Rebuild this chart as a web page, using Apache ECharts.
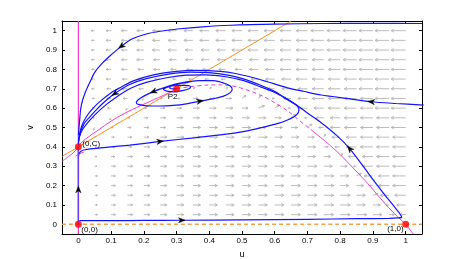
<!DOCTYPE html>
<html><head><meta charset="utf-8">
<script src="https://cdn.jsdelivr.net/npm/echarts@6.0.0/dist/echarts.min.js"></script>
<style>html,body{margin:0;padding:0;background:#fff}#c{width:451px;height:259px}</style>
</head><body><div id="c"></div>
<script>
// ---------- data ----------
const xTicks = [0,0.1,0.2,0.3,0.4,0.5,0.6,0.7,0.8,0.9,1];
const yTicks = [0,0.1,0.2,0.3,0.4,0.5,0.6,0.7,0.8,0.9,1];

// vector-field grid (quiver)
const uGrid = [0.05,0.1,0.15,0.2,0.25,0.3,0.35,0.4,0.45,0.5,0.55,0.6,0.65,0.7,0.75,0.8,0.85,0.9,0.95,1.0];
const vGrid = [0.05,0.1,0.15,0.2,0.25,0.3,0.35,0.4,0.45,0.5,0.55,0.6,0.65,0.7,0.75,0.8,0.85,0.9,0.95,1.0];
const duRows = [
 [0.19,0.31,0.37,0.43,0.47,0.51,0.54,0.58,0.60,0.61,0.63,0.65,0.66,0.68,0.70,0.71,0.73,0.64,0.35,-0.41],
 [0.19,0.31,0.37,0.43,0.47,0.51,0.54,0.58,0.60,0.61,0.63,0.65,0.66,0.68,0.70,0.71,0.62,0.53,-0.23,-0.64],
 [0.19,0.31,0.37,0.43,0.47,0.51,0.54,0.58,0.60,0.61,0.63,0.65,0.66,0.68,0.70,0.71,0.62,0.34,-0.63,-0.78],
 [0.19,0.31,0.37,0.43,0.47,0.51,0.54,0.58,0.60,0.61,0.63,0.65,0.66,0.68,0.70,0.60,0.51,-0.22,-0.77,-0.92],
 [0.19,0.31,0.37,0.43,0.47,0.51,0.54,0.58,0.60,0.61,0.63,0.65,0.66,0.68,0.70,0.60,0.33,-0.62,-0.77,-0.92],
 [0.16,0.31,0.37,0.43,0.47,0.51,0.54,0.58,0.60,0.61,0.63,0.65,0.66,0.68,0.60,0.50,-0.22,-0.75,-0.90,-0.92],
 [0.16,0.26,0.37,0.43,0.47,0.51,0.54,0.58,0.60,0.61,0.63,0.65,0.66,0.58,0.49,0.18,-0.60,-0.75,-0.90,-0.92],
 [0.13,0.26,0.31,0.43,0.47,0.51,0.54,0.58,0.60,0.61,0.63,0.65,0.56,0.58,0.32,-0.38,-0.73,-0.88,-0.90,-0.92],
 [0.05,0.22,0.31,0.37,0.47,0.51,0.54,0.58,0.60,0.61,0.63,0.55,0.56,0.48,0.12,-0.59,-0.73,-0.88,-0.90,-0.92],
 [-0.10,0.14,0.26,0.37,0.40,0.51,0.54,0.58,0.60,0.61,0.54,0.55,0.46,0.31,-0.37,-0.71,-0.86,-0.88,-0.90,-1.03],
 [-0.15,-0.09,0.17,0.30,0.40,0.43,0.46,0.49,0.51,0.52,0.54,0.46,0.30,-0.20,-0.57,-0.71,-0.86,-0.88,-0.90,-1.03],
 [-0.19,-0.25,-0.11,0.19,0.33,0.36,0.46,0.49,0.51,0.43,0.44,0.29,-0.20,-0.56,-0.70,-0.84,-0.86,-0.88,-1.01,-1.03],
 [-0.19,-0.31,-0.30,-0.13,0.12,0.23,0.38,0.41,0.42,0.27,0.16,-0.19,-0.55,-0.68,-0.82,-0.84,-0.86,-0.88,-1.01,-1.03],
 [-0.22,-0.31,-0.37,-0.35,-0.25,0.03,0.14,0.15,0.15,-0.03,-0.33,-0.53,-0.66,-0.68,-0.82,-0.84,-0.86,-0.99,-1.01,-1.03],
 [-0.22,-0.36,-0.37,-0.43,-0.39,-0.27,-0.29,-0.31,-0.32,-0.32,-0.52,-0.65,-0.66,-0.80,-0.82,-0.84,-0.86,-0.99,-1.01,-1.03],
 [-0.22,-0.36,-0.43,-0.43,-0.47,-0.42,-0.45,-0.48,-0.49,-0.50,-0.63,-0.65,-0.78,-0.80,-0.82,-0.84,-0.96,-0.99,-1.01,-1.03],
 [-0.22,-0.36,-0.43,-0.50,-0.47,-0.51,-0.54,-0.58,-0.60,-0.61,-0.63,-0.76,-0.78,-0.80,-0.82,-0.84,-0.96,-0.99,-1.01,-1.03],
 [-0.22,-0.36,-0.43,-0.50,-0.55,-0.60,-0.54,-0.58,-0.60,-0.72,-0.74,-0.76,-0.78,-0.80,-0.82,-0.94,-0.96,-0.99,-1.01,-1.03],
 [-0.22,-0.36,-0.43,-0.50,-0.55,-0.60,-0.64,-0.68,-0.70,-0.72,-0.74,-0.76,-0.78,-0.80,-0.92,-0.94,-0.96,-0.99,-1.01,-1.03],
 [-0.25,-0.36,-0.43,-0.50,-0.55,-0.60,-0.64,-0.68,-0.70,-0.72,-0.74,-0.76,-0.78,-0.80,-0.92,-0.94,-0.96,-0.99,-1.01,-1.03]
];
// cells whose arrows are visibly tilted: [u, v, dv]
const dvCells = [
 [0.5,0.65,0.35],[0.55,0.65,0.35],[0.55,0.6,0.3],[0.6,0.6,0.35],[0.65,0.55,0.4],[0.7,0.5,0.4],
 [0.75,0.45,0.35],[0.8,0.35,0.35],[0.85,0.25,0.3],[0.9,0.15,0.2],[0.35,0.7,0.15],[0.4,0.7,0.15],
 [0.45,0.7,0.15],[0.1,0.55,-0.25],[0.15,0.6,-0.25],[0.2,0.65,-0.2],[0.05,0.5,-0.3],[0.25,0.7,-0.15]
];

// nullclines
const magVert = [[0,-0.05],[0,1.05]];
const magSolidA = [[-0.05,0.325],[-0.03,0.35],[-0.01,0.378],[0.005,0.415],[0.024,0.443],[0.06,0.486],[0.1,0.533],[0.14,0.572],[0.19,0.613],[0.23,0.643],[0.26,0.666],[0.3,0.7]];
const magSmall = [[-0.008,0.352],[0.004,0.366],[0.016,0.372]];
const magDashed = [[0.3,0.7],[0.342,0.711],[0.393,0.719],[0.434,0.72],[0.465,0.716],[0.495,0.705],[0.53,0.685],[0.567,0.659],[0.6,0.628],[0.64,0.585],[0.68,0.53],[0.71,0.49]];
const magSolidB = [[0.71,0.49],[0.762,0.418],[0.8,0.36],[0.84,0.29],[0.875,0.228],[0.91,0.16],[0.947,0.088],[0.975,0.04],[1.0,0.0],[1.023,-0.05]];
const orangeLine = [[-0.05,0.35],[0.65,1.05]];
const orangeDash = [[-0.05,0],[1.05,0]];

// trajectories
const trajA = [[1.05,1.037],[0.9,1.038],[0.75,1.037],[0.6,1.034],[0.465,1.028],[0.38,1.02],[0.31,1.01],[0.25,0.997],[0.208,0.983],[0.165,0.958],[0.131,0.919],[0.1,0.875],[0.074,0.834],[0.05,0.785],[0.034,0.73],[0.022,0.685],[0.013,0.642],[0.007,0.595],[0.004,0.54],[0.002,0.5],[0.0,0.46]];
const trajB = [[0.003,0.019],[0.1,0.019],[0.2,0.02],[0.316,0.021],[0.5,0.023],[0.7,0.026],[0.85,0.029],[0.95,0.031],[0.975,0.033],[0.988,0.037],[0.98,0.06],[0.967,0.088],[0.935,0.155],[0.906,0.218],[0.87,0.3],[0.829,0.391],[0.79,0.458],[0.742,0.525],[0.7,0.575],[0.67,0.612],[0.63,0.653],[0.598,0.688],[0.55,0.723],[0.516,0.745],[0.465,0.768],[0.4,0.783],[0.342,0.786],[0.28,0.777],[0.208,0.752],[0.157,0.722],[0.111,0.675],[0.08,0.633],[0.054,0.59],[0.035,0.555],[0.018,0.521],[0.007,0.48],[0.002,0.44],[0.0,0.41]];
const trajD = [[1.055,0.616],[0.97,0.624],[0.895,0.633],[0.83,0.648],[0.742,0.668],[0.69,0.686],[0.639,0.705],[0.58,0.735],[0.535,0.757],[0.48,0.779],[0.434,0.79],[0.36,0.795],[0.3,0.79],[0.23,0.772],[0.17,0.742],[0.13,0.708],[0.1,0.68],[0.07,0.64],[0.045,0.6],[0.025,0.557],[0.012,0.515],[0.004,0.47],[0.0,0.43]];
const trajE = [[0.0,0.345],[0.002,0.365],[0.008,0.377],[0.02,0.385],[0.054,0.392],[0.1,0.4],[0.157,0.409],[0.25,0.428],[0.36,0.448],[0.465,0.468],[0.52,0.484],[0.567,0.502],[0.61,0.521],[0.639,0.539],[0.66,0.557],[0.672,0.577],[0.674,0.596],[0.665,0.617],[0.647,0.638],[0.628,0.657],[0.595,0.685],[0.557,0.71],[0.505,0.742],[0.45,0.762],[0.39,0.772],[0.33,0.77],[0.27,0.757],[0.21,0.734],[0.16,0.703],[0.12,0.662],[0.085,0.618],[0.055,0.573],[0.03,0.528],[0.012,0.488],[0.003,0.45],[0.0,0.42]];
const trajF = [[0.34,0.738],[0.3,0.725],[0.265,0.707],[0.229,0.685],[0.2,0.662],[0.183,0.643],[0.177,0.628],[0.186,0.618],[0.21,0.612],[0.25,0.611],[0.29,0.614],[0.33,0.622],[0.372,0.636],[0.41,0.648],[0.444,0.662],[0.464,0.68],[0.47,0.698],[0.463,0.716],[0.44,0.732],[0.413,0.742],[0.37,0.742],[0.33,0.733],[0.295,0.72],[0.27,0.707],[0.26,0.697],[0.27,0.688],[0.292,0.684],[0.318,0.69],[0.338,0.7],[0.343,0.711],[0.325,0.718],[0.3,0.717],[0.28,0.71],[0.28,0.7],[0.3,0.699]];
const trajV = [[0,0],[0,0.18],[0,0.4]];
// arrowheads: [trajectory, point index]
const arrowMarks = [['A',10],['B',3],['B',15],['B',30],['D',2],['E',7],['F',3],['F',12],['V',1]];

// equilibria and their labels
const eqPoints = [[0,0],[0,0.4],[0.3,0.7],[1,0]];
const eqLabels = ['(0,0)','(0,C)','P2','(1,0)'];

// ---------- styles ----------
const BLUE = '#1414ff', MAG = '#f03cd2', ORA = '#ff8c1a', GRAY = '#b4b4b4';
const S = 0.043; // quiver scale
const FONT = 'Liberation Sans, Arial, sans-serif';
const labelStyle = [
  {dx:3, dy:5, align:'left'},
  {dx:4, dy:-3, align:'left'},
  {dx:-4, dy:8, align:'center'},
  {dx:-2, dy:4, align:'right'}
];

const trajs = {A:trajA,B:trajB,D:trajD,E:trajE,F:trajF,V:trajV};

const quiver = [];
vGrid.forEach((v,i)=>{
  uGrid.forEach((u,j)=>{
    let dv = 0;
    dvCells.forEach(c=>{ if (Math.abs(c[0]-u)<1e-6 && Math.abs(c[1]-v)<1e-6) dv = c[2]; });
    quiver.push([u, v, duRows[i][j], dv]);
  });
});

const arrowData = arrowMarks.map(([k,idx])=>{
  const t = trajs[k];
  const a = t[Math.max(0,idx-1)], b = t[Math.min(t.length-1,idx+1)];
  return [t[idx][0], t[idx][1], a[0], a[1], b[0], b[1]];
});

function lineSeries(data, color, width, dashed, z, smooth){
  return {type:'line', data, showSymbol:false, symbol:'none', silent:true, smooth: smooth==null?0.3:smooth, z,
    lineStyle:{color, width, type: dashed ? [4,3] : 'solid'}, animation:false};
}

const axisCommon = {
  type:'value', min:-0.05, max:1.05,
  axisLine:{show:true, onZero:false, lineStyle:{color:'#000', width:1}},
  axisTick:{show:true, inside:true, length:3, lineStyle:{color:'#000'}},
  splitLine:{show:false}
};

const chart = echarts.init(document.getElementById('c'), null, {renderer:'canvas'});
chart.setOption({
  animation:false,
  backgroundColor:'#fff',
  grid:{left:62, right:29, top:21, bottom:25, containLabel:false, outerBoundsMode:'none'},
  xAxis:[
    Object.assign({}, axisCommon, {position:'bottom', name:'u', nameLocation:'middle', nameGap:12,
      nameTextStyle:{fontFamily:FONT, fontSize:9, color:'#000'},
      axisTick:Object.assign({}, axisCommon.axisTick, {customValues:xTicks}),
      axisLabel:{show:true, customValues:xTicks, margin:3, fontFamily:FONT, fontSize:8, color:'#000'}}),
    Object.assign({}, axisCommon, {position:'top',
      axisTick:Object.assign({}, axisCommon.axisTick, {customValues:xTicks}),
      axisLabel:{show:false}})
  ],
  yAxis:[
    Object.assign({}, axisCommon, {position:'left', name:'v', nameLocation:'middle', nameGap:17, nameRotate:90,
      nameTextStyle:{fontFamily:FONT, fontSize:9, color:'#000'},
      axisTick:Object.assign({}, axisCommon.axisTick, {customValues:yTicks}),
      axisLabel:{show:true, customValues:yTicks, margin:5, fontFamily:FONT, fontSize:8, color:'#000'}}),
    Object.assign({}, axisCommon, {position:'right',
      axisTick:Object.assign({}, axisCommon.axisTick, {customValues:yTicks}),
      axisLabel:{show:false}})
  ],
  series:[
    {type:'custom', data:quiver, encode:{x:0,y:1}, z:1, silent:true, clip:true,
      renderItem:function(params, api){
        const u=api.value(0), v=api.value(1), du=api.value(2), dv=api.value(3);
        const p0=api.coord([u,v]), p1=api.coord([u+du*S, v+dv*S]);
        const dx=p1[0]-p0[0], dy=p1[1]-p0[1]; const len=Math.hypot(dx,dy);
        if (len<0.4) return null;
        const ang=Math.atan2(dy,dx); const h=Math.min(3, 0.28*len+0.8);
        const a1=ang+Math.PI*0.84, a2=ang-Math.PI*0.84;
        return {type:'group', children:[
          {type:'line', shape:{x1:p0[0],y1:p0[1],x2:p1[0],y2:p1[1]}, style:{stroke:GRAY, lineWidth:0.9}},
          {type:'polyline', shape:{points:[[p1[0]+h*Math.cos(a1),p1[1]+h*Math.sin(a1)],[p1[0],p1[1]],[p1[0]+h*Math.cos(a2),p1[1]+h*Math.sin(a2)]]},
            style:{stroke:GRAY, fill:null, lineWidth:0.9}}
        ]};
      }},
    lineSeries(orangeDash, '#f8a04a', 1.5, true, 2),
    lineSeries(orangeLine, ORA, 1, false, 2),
    lineSeries(magVert, MAG, 1.2, false, 3),
    lineSeries(magSolidA, MAG, 1, false, 3),
    lineSeries(magSmall, MAG, 1, false, 3, 0),
    lineSeries(magDashed, MAG, 1, true, 3),
    lineSeries(magSolidB, MAG, 1, false, 3),
    lineSeries(trajA, BLUE, 1.2, false, 4),
    lineSeries(trajB, BLUE, 1.2, false, 4),
    lineSeries(trajD, BLUE, 1.2, false, 4),
    lineSeries(trajE, BLUE, 1.2, false, 4),
    lineSeries(trajF, BLUE, 1.2, false, 4),
    lineSeries(trajV, '#6a3cf0', 1.5, false, 4),
    {type:'custom', data:arrowData, encode:{x:0,y:1}, z:5, silent:true,
      renderItem:function(params, api){
        const p=api.coord([api.value(0),api.value(1)]);
        const a=api.coord([api.value(2),api.value(3)]), b=api.coord([api.value(4),api.value(5)]);
        const ang=Math.atan2(b[1]-a[1], b[0]-a[0]);
        const c=Math.cos(ang), s=Math.sin(ang), L=6.5, W=2.6;
        const tip=[p[0]+c*L/2, p[1]+s*L/2];
        const back=[p[0]-c*L/2, p[1]-s*L/2];
        const notch=[p[0]-c*L*0.2, p[1]-s*L*0.2];
        return {type:'polygon', shape:{points:[tip,[back[0]-s*W, back[1]+c*W], notch, [back[0]+s*W, back[1]-c*W]]},
          style:{fill:'#000', stroke:'#000', lineWidth:0.5}};
      }},
    {type:'scatter', data:eqPoints, symbol:'circle', symbolSize:7, z:6, silent:true,
      itemStyle:{color:'#ff0000'}},
    {type:'custom', data:eqPoints.map((p,i)=>[p[0],p[1],i]), encode:{x:0,y:1}, z:7, silent:true, clip:false,
      renderItem:function(params, api){
        const i=api.value(2); const p=api.coord([api.value(0),api.value(1)]); const st=labelStyle[i];
        return {type:'text', x:p[0]+st.dx, y:p[1]+st.dy,
          style:{text:eqLabels[i], fontFamily:FONT, fontSize:8, fill:'#000', align:st.align, verticalAlign:'middle'}};
      }}
  ]
});
</script></body></html>
